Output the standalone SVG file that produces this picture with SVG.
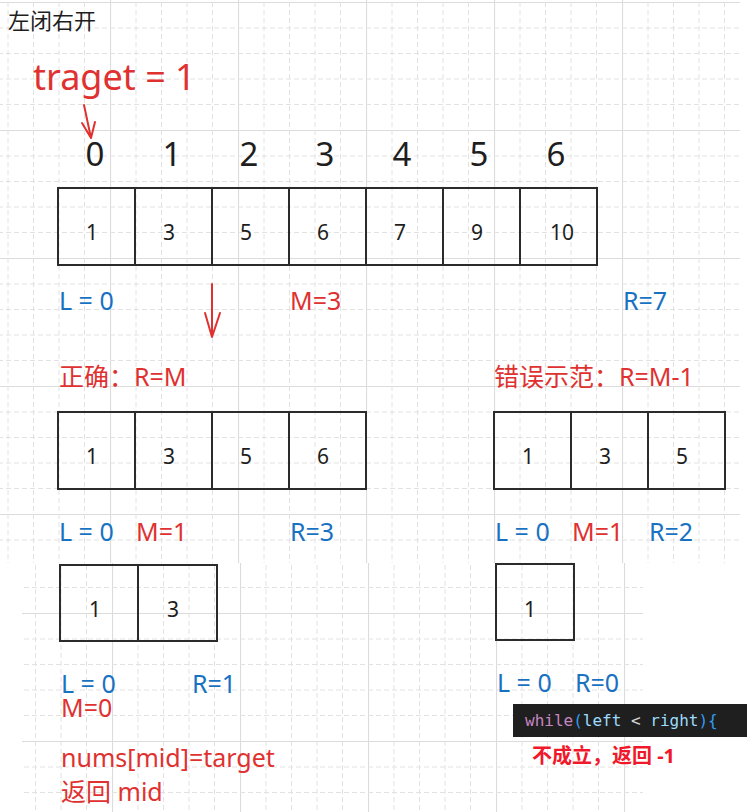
<svg xmlns="http://www.w3.org/2000/svg" width="756" height="812" viewBox="0 0 756 812">
<style>
.t{font-family:"Noto Sans","Noto Sans CJK SC",sans-serif}
.red{fill:#e03131}
.blue{fill:#1971c2}
.blk{fill:#1e1e1e}
.idx{font-size:33px;text-anchor:middle}
.val{font-size:21px;text-anchor:middle}
.lbl{font-size:25px}
.cell{fill:none;stroke:#2b2b2b;stroke-width:2}
.arr{fill:none;stroke:#e03131;stroke-width:2;stroke-linecap:round;stroke-linejoin:round}
</style>
<defs>
<g id="gcell">
<line x1="0.5" y1="0" x2="0.5" y2="128" stroke="#dcdcdc" stroke-width="1.2"/>
<line x1="0" y1="0.5" x2="128" y2="0.5" stroke="#dcdcdc" stroke-width="1.2"/>
<g stroke="#e2e2e2" stroke-width="1" stroke-dasharray="5 3">
<line x1="26" y1="0" x2="26" y2="128"/><line x1="51.5" y1="0" x2="51.5" y2="128"/><line x1="77" y1="0" x2="77" y2="128"/><line x1="102.5" y1="0" x2="102.5" y2="128"/>
<line x1="0" y1="26" x2="128" y2="26"/><line x1="0" y1="51.5" x2="128" y2="51.5"/><line x1="0" y1="77" x2="128" y2="77"/><line x1="0" y1="102.5" x2="128" y2="102.5"/>
</g>
</g>
<pattern id="gridA" patternUnits="userSpaceOnUse" x="110" y="2" width="128" height="128"><use href="#gcell"/></pattern>
<pattern id="gridB" patternUnits="userSpaceOnUse" x="112" y="485" width="128" height="128"><use href="#gcell"/></pattern>
</defs>
<rect width="756" height="812" fill="#ffffff"/>
<rect x="0" y="0" width="740" height="563" fill="url(#gridA)"/>
<rect x="22" y="563" width="621" height="249" fill="url(#gridB)"/>

<g id="title"><text class="t blk" x="8" y="29" font-size="22">左闭右开</text></g>
<g id="target"><text class="t red" x="33" y="90" font-size="36">traget = 1</text></g>

<g id="indices" class="t blk">
<text class="idx" x="95" y="166">0</text>
<text class="idx" x="172" y="166">1</text>
<text class="idx" x="249" y="166">2</text>
<text class="idx" x="325" y="166">3</text>
<text class="idx" x="402" y="166">4</text>
<text class="idx" x="479" y="166">5</text>
<text class="idx" x="556" y="166">6</text>
</g>

<g id="array1">
<rect class="cell" x="58" y="188" width="539" height="77"/>
<path class="cell" d="M135 188V265M212 188V265M289 188V265M366 188V265M443 188V265M520 188V265"/>
<g class="t blk val">
<text x="92" y="240">1</text><text x="169" y="240">3</text><text x="246" y="240">5</text><text x="323" y="240">6</text><text x="400" y="240">7</text><text x="477" y="240">9</text><text x="562" y="240">10</text>
</g>
</g>
<g id="labels1" class="t lbl">
<text class="blue" x="59" y="310">L = 0</text>
<text class="red" x="290" y="310">M=3</text>
<text class="blue" x="623" y="310">R=7</text>
</g>

<g id="headings" class="t lbl red">
<text x="59" y="386">正确：R=M</text>
<text x="494" y="386">错误示范：R=M-1</text>
</g>

<g id="array2">
<rect class="cell" x="58" y="412" width="308" height="77"/>
<path class="cell" d="M135 412V489M212 412V489M289 412V489"/>
<g class="t blk val">
<text x="92" y="464">1</text><text x="169" y="464">3</text><text x="246" y="464">5</text><text x="323" y="464">6</text>
</g>
</g>
<g id="array2b">
<rect class="cell" x="494" y="412" width="231" height="77"/>
<path class="cell" d="M571 412V489M648 412V489"/>
<g class="t blk val">
<text x="528" y="464">1</text><text x="605" y="464">3</text><text x="682" y="464">5</text>
</g>
</g>
<g id="labels2" class="t lbl">
<text class="blue" x="59" y="541">L = 0</text>
<text class="red" x="136" y="541">M=1</text>
<text class="blue" x="290" y="541">R=3</text>
<text class="blue" x="495" y="541">L = 0</text>
<text class="red" x="572" y="541">M=1</text>
<text class="blue" x="649" y="541">R=2</text>
</g>

<g id="array3">
<rect class="cell" x="60" y="565" width="157" height="76"/>
<path class="cell" d="M138 565V641"/>
<g class="t blk val">
<text x="95" y="617">1</text><text x="173" y="617">3</text>
</g>
</g>
<g id="array3b">
<rect class="cell" x="496" y="564" width="78" height="76"/>
<text class="t blk val" x="530" y="617">1</text>
</g>
<g id="labels3" class="t lbl">
<text class="blue" x="61" y="693">L = 0</text>
<text class="blue" x="192" y="693">R=1</text>
<text class="red" x="61" y="717">M=0</text>
<text class="blue" x="497" y="692">L = 0</text>
<text class="blue" x="575" y="692">R=0</text>
</g>

<g id="result" class="t lbl red">
<text x="61" y="767">nums[mid]=target</text>
<text x="61" y="801">返回 mid</text>
</g>

<g id="code">
<rect x="513" y="704" width="234" height="33" fill="#1f1f1f"/>
<text x="525" y="726" font-family="'DejaVu Sans Mono','Liberation Mono',monospace" font-size="16"><tspan fill="#c586c0">while</tspan><tspan fill="#2f9bf0">(</tspan><tspan fill="#9cdcfe">left</tspan><tspan fill="#d4d4d4"> &lt; </tspan><tspan fill="#9cdcfe">right</tspan><tspan fill="#2f9bf0">){</tspan></text>
</g>
<g id="fail"><text class="t" x="532" y="763" font-size="20" font-weight="bold" fill="#f0182a">不成立，返回 -1</text></g>

<g id="connectors">
<path class="arr" d="M84 105L91 138M82 123L91 138L95 122"/>
<path class="arr" d="M212 284V337M205 313L212 337L220 313"/>
</g>
</svg>
